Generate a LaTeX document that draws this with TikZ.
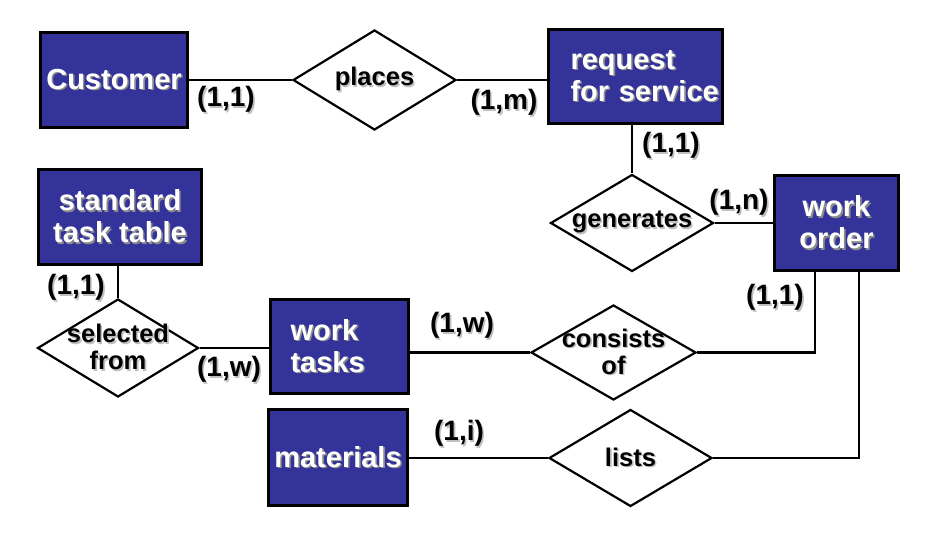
\documentclass[tikz,border=0pt]{standalone}
\usepackage{fontspec}
\setmainfont{Liberation Sans}
\usetikzlibrary{shapes.geometric}
\definecolor{entblue}{HTML}{333399}
% text with a soft drop shadow
\newcommand\shtx[1]{\leavevmode\rlap{\kern1.6pt\raisebox{-1.6pt}{\textcolor{txtshade}{#1}}}\mbox{#1}}
\newcommand\entfont{\fontsize{29}{32}\selectfont\bfseries\colorlet{txtshade}{black!45}}
\newcommand\relfont{\fontsize{25.5}{27}\selectfont\bfseries\colorlet{txtshade}{black!25}}
\newcommand\cardfont{\fontsize{28}{30}\selectfont\bfseries\colorlet{txtshade}{black!25}}
\tikzset{
    entity/.style={draw=black,line width=3pt,fill=entblue,text=white,font=\entfont,
        rectangle,inner sep=0pt,align=center},
    relation/.style={draw=black,line width=2.2pt,fill=white,font=\relfont,
        diamond,aspect=1.65,inner sep=-14pt,align=center},
    card/.style={font=\cardfont,inner sep=0pt},
    link/.style={line width=2.6pt}
}
\begin{document}
\begin{tikzpicture}[x=1pt,y=-1pt]
    \useasboundingbox (0,0) rectangle (930,536);
    % entities
    \node[entity,minimum width=147pt,minimum height=95pt] (customer) at (114,80) {\shtx{Customer}};
    \node[entity,minimum width=174pt,minimum height=94pt,text width=130pt,inner xsep=22pt,align=left]
        (request) at (635.5,76.5) {\shtx{request}\\\shtx{for service}};
    \node[entity,minimum width=163pt,minimum height=95pt] (standard) at (120,217) {\shtx{standard}\\\shtx{task table}};
    \node[entity,minimum width=124pt,minimum height=95pt] (order) at (836.5,223) {\shtx{work}\\\shtx{order}};
    \node[entity,minimum width=138pt,minimum height=94pt,text width=98pt,inner xsep=20pt,align=left]
        (tasks) at (339.5,346.5) {\shtx{work}\\\shtx{tasks}};
    \node[entity,minimum width=139pt,minimum height=96pt] (materials) at (338,457.5) {\shtx{materials}};
    % relationships
    \node[relation,minimum width=163pt,minimum height=100pt] (places) at (374.5,80) {\shtx{places}};
    \node[relation,minimum width=163pt,minimum height=97pt] (generates) at (632,223) {\shtx{generates}};
    \node[relation,minimum width=161pt,minimum height=98pt] (selected) at (118,348) {\shtx{selected}\\\shtx{from}};
    \node[relation,minimum width=165pt,minimum height=95pt] (consists) at (613.5,352.5) {\shtx{consists}\\\shtx{of}};
    \node[relation,minimum width=163pt,minimum height=97pt] (lists) at (630.5,458) {\shtx{lists}};
    % drop points under work order
    \coordinate (orderl) at (815,271);
    \coordinate (orderr) at (859,271);
    % connectors
    \draw[link] (customer.east) -- (places.west);
    \draw[link] (places.east) -- (places.east -| request.west);
    \draw[link] (generates.north |- request.south) -- (generates.north);
    \draw[link] (generates.east) -- (order.west);
    \draw[link] (selected.north |- standard.south) -- (selected.north);
    \draw[link] (selected.east) -- (selected.east -| tasks.west);
    \draw[link] (consists.west -| tasks.east) -- (consists.west);
    \draw[link] (consists.east) -| (orderl);
    \draw[link] (lists.west -| materials.east) -- (lists.west);
    \draw[link] (lists.east) -| (orderr);
    % cardinalities
    \node[card] (c1) at (226,100) {\shtx{(1,1)}};
    \node[card] (c2) at (504,103) {\shtx{(1,m)}};
    \node[card] (c3) at (671,146) {\shtx{(1,1)}};
    \node[card] (c4) at (739,203) {\shtx{(1,n)}};
    \node[card] (c5) at (76,288) {\shtx{(1,1)}};
    \node[card] (c6) at (229,370) {\shtx{(1,w)}};
    \node[card] (c7) at (462,326) {\shtx{(1,w)}};
    \node[card] (c8) at (775,298) {\shtx{(1,1)}};
    \node[card] (c9) at (459,434) {\shtx{(1,i)}};
\end{tikzpicture}
\end{document}
